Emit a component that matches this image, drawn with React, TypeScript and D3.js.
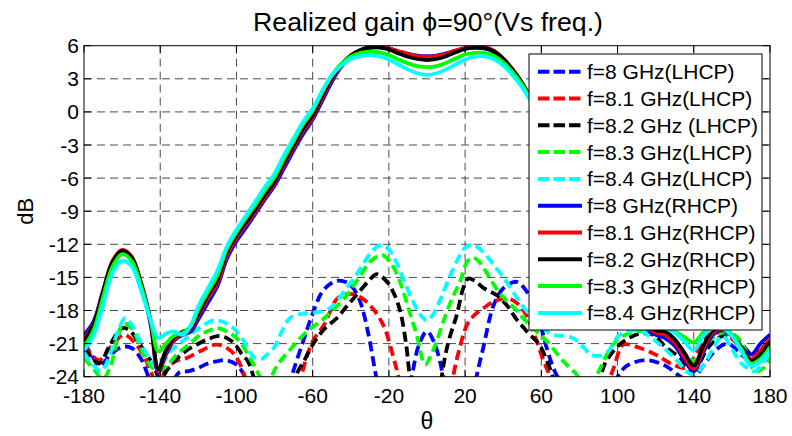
import React from 'react';
import * as d3 from 'd3';

// ---------- data ----------
const xTicks = [-180, -140, -100, -60, -20, 20, 60, 100, 140, 180];
const yTicks = [6, 3, 0, -3, -6, -9, -12, -15, -18, -21, -24];
const legendLabels = [
  'f=8 GHz(LHCP)', 'f=8.1 GHz(LHCP)', 'f=8.2 GHz (LHCP)', 'f=8.3 GHz(LHCP)', 'f=8.4 GHz(LHCP)',
  'f=8 GHz(RHCP)', 'f=8.1 GHz(RHCP)', 'f=8.2 GHz(RHCP)', 'f=8.3 GHz(RHCP)', 'f=8.4 GHz(RHCP)',
];
const seriesColors = ['#0000ff', '#ff0000', '#000000', '#00ff00', '#00ffff'];

// RHCP (co-pol) sampled angles
const thetaR = [-180, -175, -170, -165, -160, -155, -150, -145, -141, -137, -133, -128, -124, -120,
  -115, -110, -105, -100, -95, -90, -85, -80, -75, -70, -65, -60, -55, -50, -45, -40, -35, -30,
  -25, -20, -15, -10, -5, 0, 5, 10, 15, 20, 25, 30, 35, 40, 45, 50, 55, 60, 70, 80, 90, 100, 110,
  115, 120, 125, 130, 135, 140, 145, 150, 155, 160, 165, 170, 175, 180];

const rhcp80 = [-20.2, -19.0, -16.2, -13.6, -12.7, -13.3, -15.7, -19.3, -23.6, -22.0, -20.8, -20.2, -19.9, -18.8,
  -17.3, -15.8, -13.3, -11.7, -10.5, -9.2, -7.9, -6.7, -5.1, -3.5, -2.0, -0.7, 1.0, 2.7, 4.1, 5.0, 5.5, 5.8,
  5.85, 5.75, 5.5, 5.25, 5.1, 5.05, 5.1, 5.3, 5.55, 5.75, 5.8, 5.75, 5.45, 4.7, 3.6, 2.4, 0.9, -0.8, -4.3, -8.3, -12.3, -15.8, -18.3,
  -19.6, -20.2, -20.5, -21.2, -22.5, -23.5, -21.8, -20.2, -19.8, -20.3, -21.3, -22.0, -21.0, -20.2];
const rhcp81 = [-20.6, -19.2, -16.3, -13.5, -12.5, -13.1, -15.5, -19.0, -23.5, -21.8, -20.7, -20.0, -19.7, -18.5,
  -16.9, -15.5, -13.0, -11.4, -10.2, -9.0, -7.7, -6.5, -4.8, -3.25, -1.7, -0.5, 1.25, 2.9, 4.2, 5.1, 5.6, 5.9,
  5.9, 5.75, 5.5, 5.25, 5.05, 5.0, 5.05, 5.25, 5.55, 5.8, 5.95, 5.9, 5.55, 4.85, 3.85, 2.6, 1.1, -0.5, -4.0, -8.0, -12.0, -15.5, -18.0,
  -19.4, -20.0, -20.2, -20.9, -22.2, -23.3, -21.5, -20.0, -19.7, -20.3, -21.5, -22.4, -21.6, -20.6];
const rhcp82 = [-20.8, -19.3, -16.4, -13.6, -12.6, -13.2, -15.6, -19.0, -23.3, -21.6, -20.5, -19.9, -19.6, -18.3,
  -16.6, -15.2, -12.7, -11.2, -10.0, -8.8, -7.5, -6.3, -4.6, -3.05, -1.5, -0.3, 1.45, 3.05, 4.3, 5.1, 5.6, 5.85,
  5.85, 5.65, 5.3, 5.0, 4.8, 4.7, 4.8, 5.05, 5.4, 5.7, 5.85, 5.8, 5.5, 4.8, 3.8, 2.6, 1.1, -0.5, -4.0, -8.0, -12.0, -15.5, -18.0,
  -19.2, -19.8, -19.9, -20.6, -21.8, -23.0, -21.2, -19.8, -19.6, -20.2, -21.4, -22.6, -22.0, -20.8];
const rhcp83 = [-21.3, -19.8, -16.8, -14.0, -12.9, -13.5, -15.8, -18.9, -21.7, -21.0, -20.3, -20.0, -19.4, -17.9,
  -16.3, -14.8, -12.4, -10.9, -9.6, -8.4, -7.1, -5.9, -4.2, -2.65, -1.1, 0.1, 1.8, 3.3, 4.35, 5.0, 5.35, 5.45,
  5.4, 5.15, 4.75, 4.4, 4.15, 4.05, 4.15, 4.45, 4.85, 5.2, 5.35, 5.35, 5.1, 4.5, 3.6, 2.45, 1.0, -0.6, -4.1, -8.0, -11.8, -15.2, -17.8,
  -19.0, -19.5, -19.6, -19.9, -20.4, -20.9, -20.0, -19.5, -19.5, -20.2, -21.5, -22.8, -22.4, -21.3];
const rhcp84 = [-21.6, -20.3, -17.5, -14.6, -13.5, -14.0, -16.2, -18.9, -20.5, -20.1, -19.9, -20.2, -19.4, -17.6,
  -16.0, -14.4, -12.2, -10.7, -9.4, -8.1, -6.8, -5.6, -3.9, -2.4, -0.9, 0.3, 1.9, 3.3, 4.2, 4.8, 5.05, 5.15,
  5.05, 4.75, 4.3, 3.85, 3.5, 3.35, 3.5, 3.85, 4.3, 4.75, 5.0, 5.05, 4.8, 4.2, 3.3, 2.2, 0.8, -0.8, -4.2, -8.0, -11.7, -15.0, -17.6,
  -18.9, -19.4, -19.6, -20.0, -20.8, -21.6, -20.3, -19.6, -19.6, -20.3, -21.7, -23.0, -22.6, -21.6];

// LHCP (cross-pol) [theta, dB] readings; values below -24 leave the axes
const lhcp80 = [[-180, -21], [-176, -22], [-172, -23], [-166, -22], [-160, -21.3], [-155, -21.4], [-150, -22.4],
  [-145, -24.5], [-140, -26], [-135, -25], [-130, -23.6], [-125, -23.5], [-120, -23.2], [-115, -22.8], [-110, -22.6],
  [-106, -22.5], [-100, -22.9], [-95, -24.2], [-90, -27], [-80, -28], [-75, -27], [-71, -24], [-65, -20.8], [-60, -18.3],
  [-55, -16.3], [-50, -15.5], [-47, -15.3], [-43, -15.4], [-40, -15.7], [-36, -16.8], [-33, -18.4], [-30, -20.8],
  [-26, -24.5], [-20, -28], [-12, -28], [-8, -24], [-4, -21], [0, -19.9], [4, -21], [8.6, -24], [13, -28], [22, -28],
  [26, -24], [29.5, -21.4], [35, -17.5], [40, -16], [47, -15.4], [52, -16.2], [57.5, -18.1], [63, -21.5], [67, -23.5],
  [71.5, -25], [76, -28], [85, -28], [95, -26], [100, -24], [105, -23], [115, -22.5], [125, -23], [133, -24],
  [138, -24.5], [145, -23], [152, -21.5], [158, -21], [165, -22], [170, -22.6], [175, -21.5], [180, -21]];
const lhcp81 = [[-180, -21.2], [-176, -22], [-172, -22.5], [-166, -21.3], [-159, -20.2], [-153, -21], [-149, -22],
  [-145, -23.5], [-141, -25], [-137, -23.3], [-132, -22.6], [-126, -22.3], [-118, -21.6], [-111, -21.1], [-106, -21.3],
  [-101, -22], [-97, -23.3], [-94, -25], [-85, -28], [-70, -28], [-66, -24], [-60, -20.8], [-54, -19.3], [-47, -16.9],
  [-40, -16.5], [-35, -16.8], [-30, -17.5], [-23, -19.3], [-18, -22], [-15, -24], [-10, -28], [10, -28], [13.7, -24],
  [17, -21.5], [21, -19.3], [25, -18.4], [29.5, -17.8], [35, -17.2], [42, -16.9], [47, -17.3], [52, -18.4], [57, -20.5],
  [61, -22.5], [64.5, -24], [68, -27], [85, -28], [95, -24.5], [98, -23.2], [103, -21.1], [110, -21.3], [120, -22],
  [129, -22.9], [136, -23.2], [141, -22], [146, -20.5], [152, -20], [158, -20.3], [165, -21.5], [170, -22.5],
  [175, -21.8], [180, -21.2]];
const lhcp82 = [[-180, -21.5], [-176, -22.2], [-172, -22.8], [-166, -21], [-160, -19.6], [-156, -19.8], [-151, -21],
  [-147, -22], [-143, -23.2], [-140, -24.2], [-136, -23.3], [-131, -22.3], [-126, -21.6], [-121, -21.1], [-115, -20.6],
  [-109, -20.3], [-105, -20.5], [-101, -21], [-97, -22], [-94, -22.6], [-91, -24], [-85, -27], [-72, -27], [-68.4, -23.8],
  [-64, -22.4], [-60, -21.1], [-54, -19.7], [-47.4, -18.7], [-42, -17.6], [-37, -16.6], [-31, -15.4], [-26.4, -14.7],
  [-21, -15.4], [-17, -16.6], [-14, -18.1], [-11, -21], [-9, -24], [-5, -28], [5, -28], [7.7, -24], [11, -21],
  [15.6, -18.4], [19, -16], [21.7, -15.1], [25, -15.3], [30, -16], [36.5, -16.6], [41.8, -17.5], [47, -18.8], [53, -20],
  [59, -21.1], [63, -22.6], [66, -24], [70, -27], [84, -27], [88, -25.5], [91, -24], [94, -22.6], [101, -21.1],
  [107, -20.4], [112, -20.1], [118.6, -20.2], [125.8, -21.4], [133, -22.3], [138, -23.4], [142, -23], [147, -21.5],
  [152, -20.6], [158, -20.2], [165, -21], [170, -22], [175, -22.4], [180, -21.5]];
const lhcp83 = [[-180, -22.3], [-175, -23.3], [-170, -24.2], [-166, -23], [-163, -21], [-159.4, -19.2], [-155, -19.6],
  [-151, -21], [-147, -22.6], [-141, -23.5], [-136, -22.9], [-131.4, -22], [-125, -21.1], [-119, -20.2], [-114, -19.8],
  [-110.4, -19.6], [-105, -19.9], [-100, -20.5], [-96, -21.4], [-93, -22.3], [-90, -23.2], [-86.8, -24.3], [-84, -24.8],
  [-80, -23.4], [-77, -22.6], [-70, -21.2], [-63, -19.9], [-56, -19], [-49, -17.9], [-42, -16.6], [-36, -15.1],
  [-30, -13.6], [-26, -13.1], [-23, -13], [-19, -13.7], [-15.5, -14.8], [-12.4, -16.3], [-8.5, -18.5], [-5.4, -20.2],
  [-1, -22.9], [2, -22.1], [5, -20.8], [10, -18.3], [14, -16.6], [17.3, -15.4], [21, -13.6], [24, -13.2], [27, -13.5],
  [31, -14.5], [36, -15.9], [41, -17], [46, -17.8], [50, -18.6], [55, -19.5], [60, -20.3], [65, -21.2], [70, -22.3],
  [75, -23.2], [78.5, -23.8], [82, -25], [86, -25], [88, -24.3], [91, -23.2], [96, -21.5], [101, -20.5], [110, -19.9],
  [118, -20], [125, -20.5], [132, -21.5], [138, -22.5], [143, -22.3], [148, -20.8], [155, -20], [162, -20.3],
  [167, -21.5], [172, -23.5], [176, -23.3], [180, -22.3]];
const lhcp84 = [[-180, -21.8], [-176, -22.8], [-171, -23.5], [-166, -21.8], [-162, -19.8], [-158.5, -18.7],
  [-155, -19.3], [-151, -20.6], [-148.9, -21.4], [-145, -22.5], [-141.9, -23.2], [-138, -22.6], [-134.9, -21.7],
  [-129, -20.9], [-124.4, -20.2], [-118, -19.4], [-112, -18.9], [-106, -19.1], [-101.6, -19.6], [-96, -20.8],
  [-91, -22.2], [-87, -22.4], [-84, -22], [-80, -21.3], [-77, -20.2], [-72, -18.7], [-66, -18.3], [-60, -18.2],
  [-56, -18.1], [-51, -17.8], [-47.4, -17.2], [-42, -15.9], [-38, -15], [-35, -14.2], [-30, -12.9], [-25, -12.1],
  [-21, -12.3], [-17, -13.3], [-12, -15.3], [-7, -17.3], [-3, -18.5], [0, -18.9], [3, -18.4], [7, -17], [12, -14.9],
  [17, -13.1], [20, -12.3], [23.5, -12.05], [27, -12.3], [32, -13.2], [37, -14.3], [41.8, -15.4], [47, -16.8],
  [52, -18], [57, -18.9], [61, -19.6], [66, -20.2], [71, -20.3], [76.7, -20.5], [82, -21.3], [86, -22], [90.8, -22.1],
  [95, -21.7], [101, -20.2], [106, -19.9], [112, -19.8], [118, -20.5], [125, -21.5], [131, -22.5], [136, -23.5],
  [140, -23.8], [145, -23], [150, -21.5], [155, -20.3], [160, -21.5], [165, -22.8], [168, -23.2], [172, -23.5],
  [176, -22.8], [180, -21.8]];

const lhcpSeries = [lhcp80, lhcp81, lhcp82, lhcp83, lhcp84];
const rhcpSeries = [rhcp80, rhcp81, rhcp82, rhcp83, rhcp84];

// ---------- layout ----------
const W = 792, H = 436;
const L = 84, R = 770, T = 45.7, B = 376.7;
const FONT = '"Liberation Sans", Arial, Helvetica, sans-serif';

export default function App() {
  const x = d3.scaleLinear().domain([-180, 180]).range([L, R]);
  const y = d3.scaleLinear().domain([-24, 6]).range([B, T]);
  const line = d3.line<[number, number]>()
    .x(d => x(d[0]))
    .y(d => y(d[1]))
    .curve(d3.curveCatmullRom.alpha(0.5));

  const lhcpPaths = lhcpSeries.map(s => line(s as [number, number][]) || '');
  const rhcpPaths = rhcpSeries.map(vals => line(thetaR.map((t, i) => [t, vals[i]] as [number, number])) || '');

  const lgX = 529, lgY = 54, lgW = 233, lgH = 276;
  const lgRow0 = 71.7, lgStep = 26.8;

  return (
    <svg width={W} height={H} style={{ position: 'absolute', left: 0, top: 0, background: '#fff' }}
      fontFamily={FONT}>
      <rect x={0} y={0} width={W} height={H} fill="#fff" />
      <defs>
        <clipPath id="plotClip">
          <rect x={L} y={T} width={R - L} height={B - T} />
        </clipPath>
      </defs>
      {/* grid */}
      <g stroke="#4a4a4a" strokeWidth={1} strokeDasharray="8,5">
        {xTicks.filter(t => t !== -180 && t !== 180).map(t => (
          <line key={'gx' + t} x1={x(t)} x2={x(t)} y1={T} y2={B} />
        ))}
        {yTicks.filter(t => t !== 6 && t !== -24).map(t => (
          <line key={'gy' + t} x1={L} x2={R} y1={y(t)} y2={y(t)} />
        ))}
      </g>
      {/* data */}
      <g clipPath="url(#plotClip)" fill="none" strokeLinejoin="round">
        {lhcpPaths.map((d, i) => (
          <path key={'l' + i} d={d} stroke={seriesColors[i]} strokeWidth={3.8} strokeDasharray="10,5" />
        ))}
        {rhcpPaths.map((d, i) => (
          <path key={'r' + i} d={d} stroke={seriesColors[i]} strokeWidth={3.8} />
        ))}
      </g>
      {/* axes box & ticks */}
      <rect x={L} y={T} width={R - L} height={B - T} fill="none" stroke="#000" strokeWidth={1} />
      <g stroke="#000" strokeWidth={1}>
        {xTicks.map(t => (
          <g key={'tx' + t}>
            <line x1={x(t)} x2={x(t)} y1={B} y2={B - 7} />
            <line x1={x(t)} x2={x(t)} y1={T} y2={T + 7} />
          </g>
        ))}
        {yTicks.map(t => (
          <g key={'ty' + t}>
            <line x1={L} x2={L + 7} y1={y(t)} y2={y(t)} />
            <line x1={R} x2={R - 7} y1={y(t)} y2={y(t)} />
          </g>
        ))}
      </g>
      {/* tick labels */}
      <g fontSize={21} fill="#000">
        {xTicks.map(t => (
          <text key={'lx' + t} x={x(t)} y={403} textAnchor="middle">{t}</text>
        ))}
        {yTicks.map(t => (
          <text key={'ly' + t} x={79} y={y(t) + 7.5} textAnchor="end">{t}</text>
        ))}
      </g>
      {/* axis labels & title */}
      <text x={(L + R) / 2} y={429} fontSize={23} textAnchor="middle">θ</text>
      <text transform={`translate(33,${(T + B) / 2}) rotate(-90)`} fontSize={22} textAnchor="middle">dB</text>
      <text x={428} y={31} fontSize={26} textAnchor="middle" textLength={350}
        lengthAdjust="spacingAndGlyphs">Realized gain ϕ=90°(Vs freq.)</text>
      {/* legend */}
      <rect x={lgX} y={lgY} width={lgW} height={lgH} fill="#fff" stroke="#000" strokeWidth={1} />
      {legendLabels.map((lab, i) => {
        const cy = lgRow0 + i * lgStep;
        const c = seriesColors[i % 5];
        return (
          <g key={'lg' + i}>
            <line x1={538} x2={582} y1={cy} y2={cy} stroke={c} strokeWidth={4}
              strokeDasharray={i < 5 ? '11.5,4' : undefined} />
            <text x={587} y={cy + 7.5} fontSize={21} fill="#000">{lab}</text>
          </g>
        );
      })}
    </svg>
  );
}
